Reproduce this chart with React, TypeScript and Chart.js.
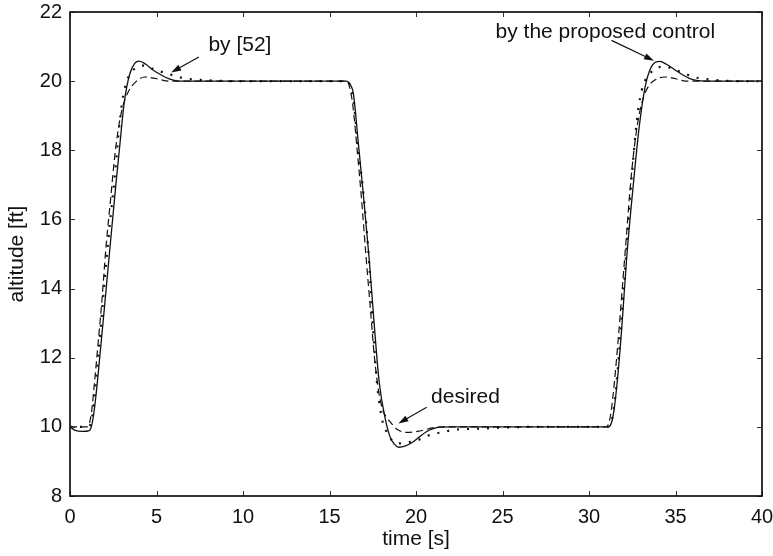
import React, { useEffect, useRef } from 'react';
import { Chart, registerables } from 'chart.js';

Chart.register(...registerables);

const FONT = '"Liberation Sans", Arial, Helvetica, sans-serif';

// proposed control (solid)
const solidT = [0, 0.3, 0.7, 1.05, 1.2, 1.35, 1.5, 1.65, 2.0, 2.35, 2.66, 2.85, 3.14, 3.45, 3.75, 4.0, 4.4, 4.8, 5.2, 5.7, 6.2, 7.0,
  16.0, 16.15, 16.38, 16.67, 16.95, 17.3, 17.55, 17.88, 18.2, 18.5, 18.75, 19.0, 19.4, 19.84, 20.2, 20.6, 21.0, 21.4, 22.0,
  31.1, 31.3, 31.45, 31.65, 31.9, 32.18, 32.56, 32.9, 33.24, 33.5, 33.85, 34.1, 34.5, 34.87, 35.45, 35.8, 36.2, 36.8, 40];
const solidV = [10, 9.9, 9.87, 9.88, 9.95, 10.3, 10.9, 11.65, 13.5, 15.4, 17.05, 18.0, 19.4, 20.2, 20.52, 20.58, 20.48, 20.32, 20.2, 20.07, 20.01, 20,
  20, 19.93, 19.64, 18.19, 16.75, 14.82, 13.18, 11.26, 10.29, 9.71, 9.5, 9.41, 9.45, 9.57, 9.71, 9.86, 9.95, 9.99, 10,
  10, 10.12, 10.5, 11.4, 12.9, 14.9, 17.0, 18.67, 19.83, 20.3, 20.55, 20.57, 20.48, 20.36, 20.17, 20.08, 20.02, 20, 20];

// desired (dashed)
const dashedT = [0, 1.0, 1.12, 1.25, 1.4, 1.64, 1.85, 2.08, 2.35, 2.58, 2.85, 3.1, 3.4, 3.8, 4.3, 5.0, 5.7,
  16.0, 16.15, 16.35, 16.6, 16.85, 17.1, 17.35, 17.6, 17.85, 18.1, 18.3, 18.5, 18.9, 19.5, 20.2, 21.2, 22.0,
  31.0, 31.1, 31.25, 31.45, 31.7, 32.08, 32.47, 32.8, 33.1, 33.4, 33.8, 34.4, 35.0, 35.6, 40];
const dashedV = [10, 10, 10.1, 10.45, 11.2, 12.5, 13.7, 15.2, 16.6, 17.8, 18.8, 19.35, 19.72, 19.98, 20.12, 20.07, 20.0,
  20, 19.85, 19.3, 18.0, 16.6, 15.0, 13.5, 12.0, 11.0, 10.45, 10.28, 10.15, 9.93, 9.84, 9.88, 9.99, 10,
  10, 10.05, 10.35, 11.2, 12.6, 15.0, 17.4, 18.75, 19.45, 19.82, 20.03, 20.12, 20.07, 20.0, 20];

// by [52] (dotted)
const dottedT = [0, 1.05, 1.2, 1.35, 1.5, 1.8, 2.1, 2.35, 2.56, 2.83, 3.03, 3.25, 3.47, 3.86, 4.34, 4.9, 5.55, 5.95, 6.53, 7.09, 7.7, 8.5, 9.5,
  16.05, 16.2, 16.4, 16.65, 16.95, 17.3, 17.5, 17.72, 17.92, 18.07, 18.27, 18.5, 18.98, 19.5, 20.13, 20.6, 21.16, 21.68, 22.1, 22.64, 23.2, 23.8, 25.0, 27.0,
  31.0, 31.2, 31.4, 31.6, 31.85, 32.15, 32.4, 32.6, 32.75, 32.95, 33.14, 33.5, 33.8, 34.4, 34.9, 35.45, 36.0, 36.5, 37.1, 37.7, 38.5, 40];
const dottedV = [10, 10, 10.1, 10.5, 11.3, 13.0, 14.8, 16.1, 17.1, 18.6, 19.45, 19.95, 20.2, 20.4, 20.45, 20.33, 20.23, 20.17, 20.09, 20.05, 20.03, 20.01, 20,
  20, 19.85, 19.4, 18.1, 16.8, 14.7, 13.0, 11.4, 10.55, 10.15, 9.88, 9.67, 9.52, 9.55, 9.62, 9.73, 9.81, 9.86, 9.91, 9.93, 9.94, 9.95, 9.98, 10,
  10, 10.05, 10.4, 11.3, 12.9, 15.0, 16.8, 18.0, 18.8, 19.5, 19.9, 20.2, 20.36, 20.42, 20.34, 20.24, 20.12, 20.08, 20.04, 20.02, 20, 20];

const xMin = 0, xMax = 40, xStep = 5;
const yMin = 8, yMax = 22, yStep = 2;

const annotations = [
  { text: 'by [52]', tx: 8.0, ty: 21.03, from: [7.45, 20.7], to: [5.85, 20.25] },
  { text: 'by the proposed control', tx: 24.6, ty: 21.41, from: [31.3, 21.18], to: [33.76, 20.59] },
  { text: 'desired', tx: 20.87, ty: 10.86, from: [20.62, 10.57], to: [18.98, 10.1] },
];

const toPts = (t: number[], v: number[]) => t.map((x, i) => ({ x, y: v[i] }));

const framePlugin = {
  id: 'frame',
  afterDatasetsDraw(chart: any) {
    const { ctx, chartArea: a, scales } = chart;
    const xs = scales.x, ys = scales.y;
    ctx.save();
    ctx.strokeStyle = '#333';
    ctx.lineWidth = 1;
    const tl = 5;
    xs.ticks.forEach((t: any) => {
      const px = Math.round(xs.getPixelForValue(t.value)) + 0.5;
      ctx.beginPath();
      ctx.moveTo(px, a.bottom); ctx.lineTo(px, a.bottom - tl);
      ctx.moveTo(px, a.top); ctx.lineTo(px, a.top + tl);
      ctx.stroke();
    });
    ys.ticks.forEach((t: any) => {
      const py = Math.round(ys.getPixelForValue(t.value)) + 0.5;
      ctx.beginPath();
      ctx.moveTo(a.left, py); ctx.lineTo(a.left + tl, py);
      ctx.moveTo(a.right, py); ctx.lineTo(a.right - tl, py);
      ctx.stroke();
    });
    ctx.strokeStyle = '#111';
    ctx.lineWidth = 1.7;
    ctx.strokeRect(a.left, a.top, a.right - a.left, a.bottom - a.top);
    ctx.fillStyle = '#111';
    ctx.font = `21px ${FONT}`;
    ctx.textAlign = 'left';
    ctx.textBaseline = 'middle';
    annotations.forEach((an) => {
      ctx.fillText(an.text, xs.getPixelForValue(an.tx), ys.getPixelForValue(an.ty));
      const x0 = xs.getPixelForValue(an.from[0]), y0 = ys.getPixelForValue(an.from[1]);
      const x1 = xs.getPixelForValue(an.to[0]), y1 = ys.getPixelForValue(an.to[1]);
      const ang = Math.atan2(y1 - y0, x1 - x0);
      const hl = 10, hw = 3.2;
      ctx.strokeStyle = '#111';
      ctx.lineWidth = 1.2;
      ctx.beginPath();
      ctx.moveTo(x0, y0);
      ctx.lineTo(x1 - Math.cos(ang) * hl * 0.8, y1 - Math.sin(ang) * hl * 0.8);
      ctx.stroke();
      ctx.beginPath();
      ctx.moveTo(x1, y1);
      ctx.lineTo(x1 - Math.cos(ang) * hl - Math.sin(ang) * hw, y1 - Math.sin(ang) * hl + Math.cos(ang) * hw);
      ctx.lineTo(x1 - Math.cos(ang) * hl + Math.sin(ang) * hw, y1 - Math.sin(ang) * hl - Math.cos(ang) * hw);
      ctx.closePath();
      ctx.fill();
    });
    ctx.restore();
  },
};

export default function App() {
  const ref = useRef<HTMLCanvasElement>(null);
  useEffect(() => {
    if (!ref.current) return;
    const chart = new Chart(ref.current, {
      type: 'line',
      data: {
        datasets: [
          {
            label: 'by [52]',
            data: toPts(dottedT, dottedV),
            borderColor: '#111',
            borderWidth: 2.2,
            borderDash: [2, 8],
            pointRadius: 0,
            cubicInterpolationMode: 'monotone',
            fill: false,
          },
          {
            label: 'desired',
            data: toPts(dashedT, dashedV),
            borderColor: '#111',
            borderWidth: 1.2,
            borderDash: [7, 4],
            pointRadius: 0,
            cubicInterpolationMode: 'monotone',
            fill: false,
          },
          {
            label: 'by the proposed control',
            data: toPts(solidT, solidV),
            borderColor: '#111',
            borderWidth: 1.3,
            pointRadius: 0,
            cubicInterpolationMode: 'monotone',
            fill: false,
          },
        ],
      },
      options: {
        animation: false,
        responsive: false,
        devicePixelRatio: 1,
        layout: { padding: { left: 0, right: 11, top: 12, bottom: 0 } },
        plugins: { legend: { display: false }, tooltip: { enabled: false } },
        scales: {
          x: {
            type: 'linear',
            min: xMin,
            max: xMax,
            grid: { display: false, drawTicks: false },
            border: { display: false },
            ticks: { stepSize: xStep, padding: 9, color: '#111', font: { family: FONT, size: 20 }, maxRotation: 0 },
            title: { display: true, text: 'time [s]', color: '#111', font: { family: FONT, size: 21 }, padding: { top: 0, bottom: 4 } },
            afterFit: (s: any) => { s.height = 60; s.paddingLeft = 0; s.paddingRight = 0; },
          },
          y: {
            type: 'linear',
            min: yMin,
            max: yMax,
            grid: { display: false, drawTicks: false },
            border: { display: false },
            ticks: { stepSize: yStep, padding: 8, color: '#111', font: { family: FONT, size: 20 } },
            title: { display: true, text: 'altitude [ft]', color: '#111', font: { family: FONT, size: 21 }, padding: { top: 5, bottom: 0 } },
            afterFit: (s: any) => { s.width = 70; s.paddingTop = 0; s.paddingBottom = 0; },
          },
        },
      },
      plugins: [framePlugin],
    } as any);
    return () => chart.destroy();
  }, []);
  return (
    <div style={{ position: 'absolute', left: 0, top: 0, width: 773, height: 556, background: '#fff' }}>
      <canvas ref={ref} width={773} height={556} style={{ display: 'block' }} />
    </div>
  );
}
